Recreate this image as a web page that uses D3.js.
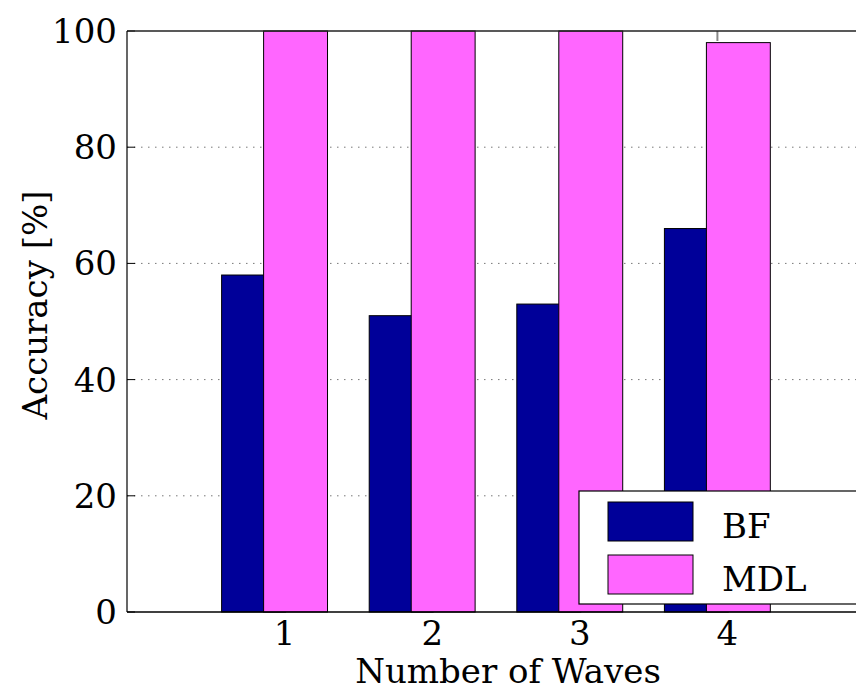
<!DOCTYPE html>
<html>
<head>
<meta charset="utf-8">
<script src="https://cdn.jsdelivr.net/npm/d3@7"></script>
<style>
    body { margin: 0; background: white; }
    svg { display: block; font-family: "DejaVu Serif", serif; }
</style>
</head>
<body>
<div id="chart"></div>
<script>
var waves = [1, 2, 3, 4];
var bfValues = [58, 51, 53, 66];
var mdlValues = [100, 100, 100, 98];
var yTicks = [0, 20, 40, 60, 80, 100];
var seriesNames = ["BF", "MDL"];
var seriesColors = ["#000099", "#ff66ff"];

var width = 856, height = 693;

var svg = d3.select("#chart")
    .append("svg")
    .attr("width", width)
    .attr("height", height);

// axes box runs past the right edge, like the original figure
var x = d3.scaleLinear().domain([0, 5]).range([127, 865]);
var y = d3.scaleLinear().domain([0, 100]).range([612, 31]);

// dotted grid
svg.append("g").selectAll("line")
    .data(yTicks.filter(d => d > 0 && d < 100))
    .join("line")
    .attr("x1", x(0))
    .attr("x2", width)
    .attr("y1", d => y(d))
    .attr("y2", d => y(d))
    .attr("stroke", "#777")
    .attr("stroke-width", 1)
    .attr("stroke-dasharray", "1.5,5.5");

// y ticks pointing inward
svg.append("g").selectAll("line")
    .data(yTicks)
    .join("line")
    .attr("x1", x(0))
    .attr("x2", x(0) + 8)
    .attr("y1", d => y(d))
    .attr("y2", d => y(d))
    .attr("stroke", "black");

// x ticks, top and bottom (bars sit over them)
svg.append("g").selectAll("line")
    .data(waves)
    .join("line")
    .attr("x1", d => x(d))
    .attr("x2", d => x(d))
    .attr("y1", y(100))
    .attr("y2", y(100) + 10)
    .attr("stroke", "#888")
    .attr("stroke-width", 2);

svg.append("g").selectAll("line")
    .data(waves)
    .join("line")
    .attr("x1", d => x(d))
    .attr("x2", d => x(d))
    .attr("y1", y(0))
    .attr("y2", y(0) - 8)
    .attr("stroke", "black");

var barLeft = -0.359, barWidth = 0.433;

svg.append("g").selectAll("rect")
    .data(bfValues)
    .join("rect")
    .attr("x", (d, i) => x(waves[i] + barLeft))
    .attr("width", x(barWidth) - x(0))
    .attr("y", d => y(d))
    .attr("height", d => y(0) - y(d))
    .attr("fill", seriesColors[0])
    .attr("stroke", "black")
    .attr("stroke-width", 1);

svg.append("g").selectAll("rect")
    .data(mdlValues)
    .join("rect")
    .attr("x", (d, i) => x(waves[i] - 0.0745))
    .attr("width", x(barWidth) - x(0))
    .attr("y", d => y(d))
    .attr("height", d => y(0) - y(d))
    .attr("fill", seriesColors[1])
    .attr("stroke", "black")
    .attr("stroke-width", 1);

// axis lines
svg.append("line")
    .attr("x1", x(0)).attr("x2", width)
    .attr("y1", y(100)).attr("y2", y(100))
    .attr("stroke", "#222").attr("stroke-width", 1.5);
svg.append("line")
    .attr("x1", x(0)).attr("x2", width)
    .attr("y1", y(0)).attr("y2", y(0))
    .attr("stroke", "black").attr("stroke-width", 1.5);
svg.append("line")
    .attr("x1", x(0)).attr("x2", x(0))
    .attr("y1", y(0)).attr("y2", y(100))
    .attr("stroke", "black").attr("stroke-width", 1.2);

// tick labels
svg.append("g").selectAll("text")
    .data(yTicks)
    .join("text")
    .attr("x", 117)
    .attr("y", d => y(d) + 12)
    .attr("text-anchor", "end")
    .attr("font-size", "34px")
    .text(d => d);

svg.append("g").selectAll("text")
    .data(waves)
    .join("text")
    .attr("x", d => x(d) + 10)
    .attr("y", 645)
    .attr("text-anchor", "middle")
    .attr("font-size", "34px")
    .text(d => d);

svg.append("text")
    .attr("x", 508)
    .attr("y", 683)
    .attr("text-anchor", "middle")
    .attr("font-size", "34px")
    .text("Number of Waves");

svg.append("text")
    .attr("transform", "translate(47,305) rotate(-90)")
    .attr("text-anchor", "middle")
    .attr("font-size", "34px")
    .text("Accuracy [%]");

// legend
var legend = svg.append("g");
legend.append("rect")
    .attr("x", 579)
    .attr("y", 491)
    .attr("width", 300)
    .attr("height", 113)
    .attr("fill", "white")
    .attr("stroke", "black")
    .attr("stroke-width", 1.2);

var items = legend.selectAll("g")
    .data(seriesNames)
    .join("g")
    .attr("transform", (d, i) => "translate(0," + i * 53 + ")");

items.append("rect")
    .attr("x", 608)
    .attr("y", 502)
    .attr("width", 85)
    .attr("height", 39)
    .attr("fill", (d, i) => seriesColors[i])
    .attr("stroke", "black")
    .attr("stroke-width", 1);

items.append("text")
    .attr("x", 722)
    .attr("y", 538)
    .attr("font-size", "34px")
    .text(d => d);
</script>
</body>
</html>
